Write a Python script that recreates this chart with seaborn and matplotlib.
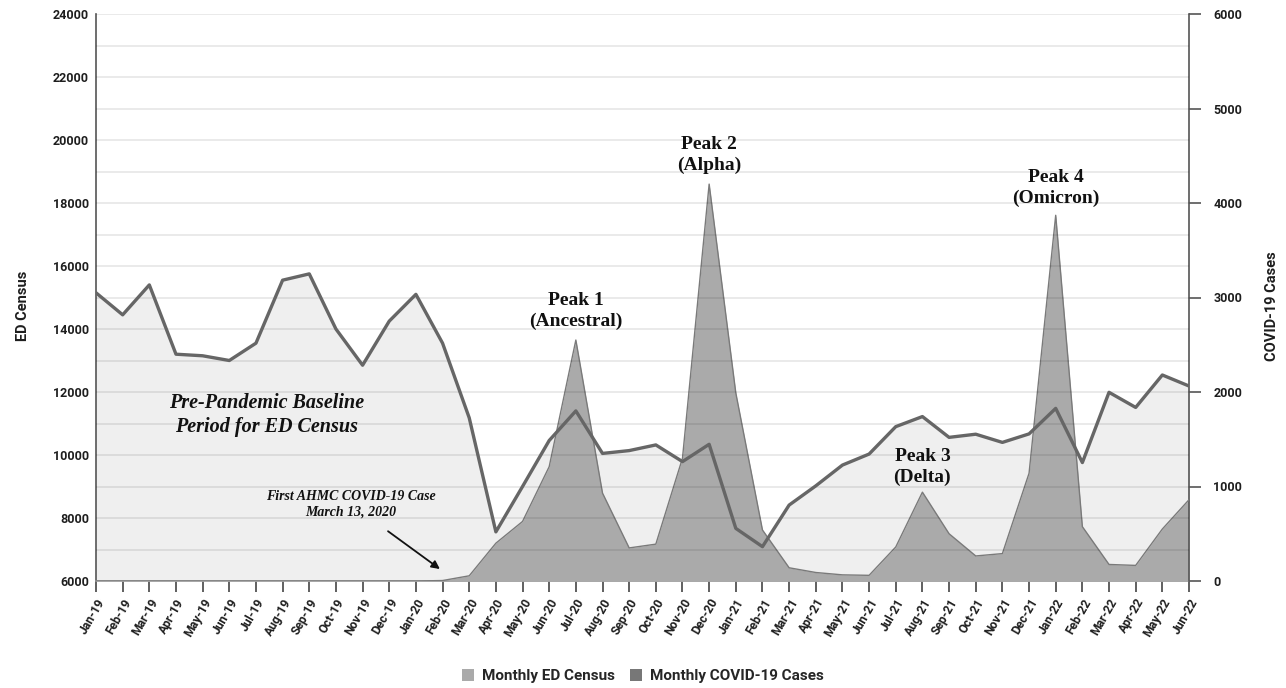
import matplotlib
matplotlib.use("Agg")
import matplotlib.pyplot as plt
from matplotlib.patches import Patch
import seaborn as sns
import pandas as pd
import numpy as np

months = ["Jan-19", "Feb-19", "Mar-19", "Apr-19", "May-19", "Jun-19", "Jul-19", "Aug-19",
          "Sep-19", "Oct-19", "Nov-19", "Dec-19", "Jan-20", "Feb-20", "Mar-20", "Apr-20",
          "May-20", "Jun-20", "Jul-20", "Aug-20", "Sep-20", "Oct-20", "Nov-20", "Dec-20",
          "Jan-21", "Feb-21", "Mar-21", "Apr-21", "May-21", "Jun-21", "Jul-21", "Aug-21",
          "Sep-21", "Oct-21", "Nov-21", "Dec-21", "Jan-22", "Feb-22", "Mar-22", "Apr-22",
          "May-22", "Jun-22"]

ed_census = [15150, 14450, 15400, 13200, 13150, 13000, 13550, 15550,
             15750, 14000, 12850, 14250, 15100, 13550, 11180, 7560,
             9000, 10460, 11400, 10050, 10140, 10320, 9790, 10340,
             7670, 7090, 8410, 9020, 9680, 10030, 10900, 11220,
             10560, 10660, 10400, 10670, 11480, 9760, 11990, 11510,
             12540, 12190]

covid_cases = [0, 0, 0, 0, 0, 0, 0, 0,
               0, 0, 0, 0, 0, 5, 55, 400,
               630, 1210, 2550, 930, 350, 390, 1300, 4200,
               1990, 540, 140, 90, 65, 60, 360, 940,
               500, 265, 290, 1140, 3870, 575, 175, 165,
               550, 860]

left_ticks = [6000, 8000, 10000, 12000, 14000, 16000, 18000, 20000, 22000, 24000]
right_ticks = [0, 1000, 2000, 3000, 4000, 5000, 6000]

df = pd.DataFrame({"month": months, "idx": np.arange(len(months)),
                   "ed": ed_census, "covid": covid_cases})

sns.set_theme(style="white")
plt.rcParams["font.family"] = ["Roboto", "DejaVu Sans"]

fig = plt.figure(figsize=(12.86, 6.88), dpi=100)
ax = fig.add_axes([96/1286, 1 - 581/688, (1189-96)/1286, (581-14)/688])
ax2 = ax.twinx()
ax3 = ax.twinx()

ED_MIN, ED_MAX = 6000, 24000
TXT = "#1e1e1e"

# ED census fill (bottom layer)
ax.fill_between(df["idx"], ED_MIN, df["ed"], color="#efefef", lw=0, zorder=1)
ax.set_ylim(ED_MIN, ED_MAX)
ax.set_xlim(0, len(months) - 1)
ax.set_yticks(left_ticks)
ax.set_yticklabels([str(t) for t in left_ticks], fontsize=9, fontweight="bold", color=TXT)
ax.set_xticks(df["idx"])
ax.set_xticklabels(months, rotation=60, ha="right", rotation_mode="anchor",
                   fontsize=8.7, fontweight="bold", color=TXT)
ax.tick_params(axis="x", direction="out", length=8, width=1.2, color="#444", pad=3, bottom=True)
ax.tick_params(axis="y", length=0, pad=5)
ax.set_ylabel("ED Census", fontsize=10.5, fontweight="bold", color=TXT, labelpad=0)
ax.yaxis.set_label_coords(-66/1093, 0.485)
for s in ["top", "right"]:
    ax.spines[s].set_visible(False)
ax.spines["left"].set_color("#555")
ax.spines["left"].set_linewidth(1.2)
ax.spines["bottom"].set_color("#999")
ax.spines["bottom"].set_linewidth(1.2)

# COVID cases fill (middle layer)
ax2.fill_between(df["idx"], 0, df["covid"], color="#aaaaaa", lw=0, zorder=2)
sns.lineplot(data=df, x="idx", y="covid", ax=ax2, color="#7a7a7a", lw=1.0, zorder=3)
ax2.set_ylim(0, 6000)
ax2.set_yticks(right_ticks)
ax2.set_yticklabels([str(t) for t in right_ticks], fontsize=9, fontweight="bold", color=TXT)
ax2.tick_params(axis="y", direction="out", length=8.5, width=1.2, color="#555", pad=9)
ax2.set_ylabel("COVID-19 Cases", fontsize=10.5, fontweight="bold", color=TXT, rotation=90)
ax2.yaxis.set_label_coords(1 + 76/1093, 0.485)
ax2.set_xlabel("")
for s in ["top", "left", "bottom"]:
    ax2.spines[s].set_visible(False)
ax2.spines["right"].set_color("#555")
ax2.spines["right"].set_linewidth(1.2)

# Top layer: grid + ED line + annotations
ax3.set_ylim(ED_MIN, ED_MAX)
ax3.set_xlim(0, len(months) - 1)
for g in range(7000, 24001, 1000):
    ax3.axhline(g, color="black", alpha=0.09, lw=1.3, zorder=0)
sns.lineplot(data=df, x="idx", y="ed", ax=ax3, color="#666666", lw=2.4, zorder=5)
ax3.axis("off")

serif = ["Liberation Serif", "DejaVu Serif"]
peaks = [("Peak 1\n(Ancestral)", 18, 14570),
         ("Peak 2\n(Alpha)", 23, 19520),
         ("Peak 3\n(Delta)", 31, 9620),
         ("Peak 4\n(Omicron)", 36, 18480)]
for txt, xi, yv in peaks:
    ax3.text(xi, yv, txt, ha="center", va="center", family=serif, fontweight="bold",
             fontsize=14, color="#111", linespacing=1.3, zorder=6)

ax3.text(6.41, 11270, "Pre-Pandemic Baseline\nPeriod for ED Census", ha="center", va="center",
         family=serif, style="italic", fontweight="bold", fontsize=14.5, color="#111",
         linespacing=1.22, zorder=6)
ax3.annotate("First AHMC COVID-19 Case\nMarch 13, 2020", xy=(12.9, 6380), xytext=(9.56, 8440),
             ha="center", va="center", family=serif, style="italic", fontweight="bold",
             fontsize=10, color="#111", linespacing=1.2, zorder=6,
             arrowprops=dict(arrowstyle="-|>", color="#111", lw=1.3, mutation_scale=12,
                             shrinkA=12, shrinkB=0))

handles = [Patch(facecolor="#aaaaaa", edgecolor="none"),
           Patch(facecolor="#777777", edgecolor="none")]
fig.legend(handles, ["Monthly ED Census", "Monthly COVID-19 Cases"], loc="center",
           bbox_to_anchor=(0.5, 1 - 676/688), ncol=2, frameon=False,
           prop={"family": ["Roboto", "DejaVu Sans"], "weight": "bold", "size": 11},
           handlelength=0.8, handleheight=0.8, handletextpad=0.5, columnspacing=1.0)

fig.savefig("out.png", dpi=100, facecolor="white")
